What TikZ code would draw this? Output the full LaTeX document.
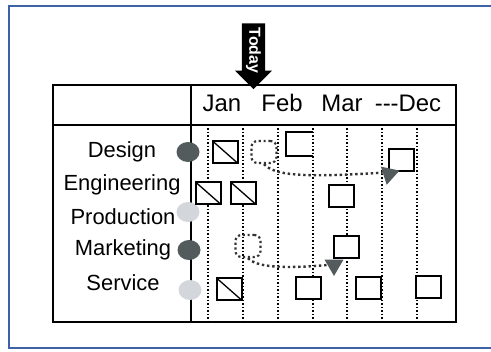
\documentclass[tikz,border=0pt]{standalone}
\usepackage{fontspec}
\setmainfont{Liberation Sans}
\usepackage{xcolor}
\usetikzlibrary{shapes.geometric,shapes.arrows}
\definecolor{framblue}{HTML}{3D62A8}
\definecolor{slate}{HTML}{535B5C}
\definecolor{pale}{HTML}{D3D6DA}

\begin{document}
\begin{tikzpicture}[
            x=1bp, y=-1bp,
            frame/.style={line width=2bp},
            tbox/.style={draw, fill=white, line width=2bp, minimum width=25bp, minimum height=22bp, inner sep=0pt},
            hbox/.style={tbox, path picture={\draw[line width=1.3bp] (path picture bounding box.north west) -- (path picture bounding box.south east);}},
            oldbox/.style={draw=black!80, line width=2.2bp, dash pattern=on 2.2bp off 2.6bp, rounded corners=6bp, minimum width=25bp, minimum height=22bp, inner sep=0pt},
            moved/.style={draw=black!80, line width=2.4bp, dash pattern=on 2.4bp off 2.8bp},
            vline/.style={line width=1.8bp, dash pattern=on 1.8bp off 1.7bp},
            tri/.style={regular polygon, regular polygon sides=3, shape border rotate=180, fill=slate, minimum size=22bp, inner sep=0pt},
            bead/.style={ellipse, minimum width=23bp, minimum height=20bp, inner sep=0pt},
            month/.style={font=\fontsize{24}{28}\selectfont},
            dept/.style={font=\fontsize{22}{26}\selectfont},
        ]
            \useasboundingbox (0,0) rectangle (491,351);
            \draw [framblue, frame] (9,6) rectangle (496,348);

            \draw [frame] (53,85) rectangle (456,322);
            \draw [frame] (191,85) -- (191,322);
            \draw [frame] (53,125) -- (456,125);
            \foreach \x in {208,243,278,313,347,382,417}
                \draw [vline] (\x,128) -- (\x,321);

            \node [month] (jan) at (222,103) {Jan};
            \node [month] (feb) at (282,103) {Feb};
            \node [month] (mar) at (342,103) {Mar};
            \node [month] (dec) at (408,103) {-{}-{}-Dec};

            \node [dept] (design) at (122,152) {Design};
            \node [dept] (eng)    at (122,185) {Engineering};
            \node [dept] (prod)   at (123,217) {Production};
            \node [dept] (mkt)    at (123,250) {Marketing};
            \node [dept] (serv)   at (123,283) {Service};

            \node [bead, fill=slate] (cdesign) at (188,152) {};
            \node [bead, fill=pale]  (cprod)   at (188,212) {};
            \node [bead, fill=slate] (cmkt)    at (189,250) {};
            \node [bead, fill=pale]  (cserv)   at (190,290) {};

            \node [hbox] (djan) at (225,152) {};
            \node [tbox, draw=none] (dfeb) at (299.5,144) {};
            \draw [line width=2bp] (dfeb.north east) -| (dfeb.south west) -- (dfeb.south east);
            \node [tbox] (ddec) at (401,160) {};
            \node [hbox] (ejan) at (208,193) {};
            \node [hbox] (efeb) at (243,193) {};
            \node [tbox] (emar) at (341,196) {};
            \node [tbox] (mmar) at (346,247) {};
            \node [hbox] (sjan) at (229,289) {};
            \node [tbox] (sfeb) at (308,288) {};
            \node [tbox] (sapr) at (368,288) {};
            \node [tbox] (sdec) at (428,287) {};

            \node [oldbox] (dold) at (264,152) {};
            \node [oldbox] (mold) at (248,246) {};
            \node [tri, rotate=-12] (dtri) at (389,174) {};
            \node [tri] (mtri) at (334,265) {};
            \draw [moved] (dold.south) .. controls (274,175) and (300,178) .. (dtri.west);
            \draw [moved] (mold.south) .. controls (256,267) and (282,269) .. (mtri.west);

            \node [single arrow, draw=none, fill=black, rotate=-90,
                   minimum height=59bp, single arrow head extend=7bp, inner sep=4bp,
                   text=white, font=\fontsize{16}{18}\selectfont\bfseries] (today) at (253.5,50.5) {Today};
        \end{tikzpicture}
\end{document}
